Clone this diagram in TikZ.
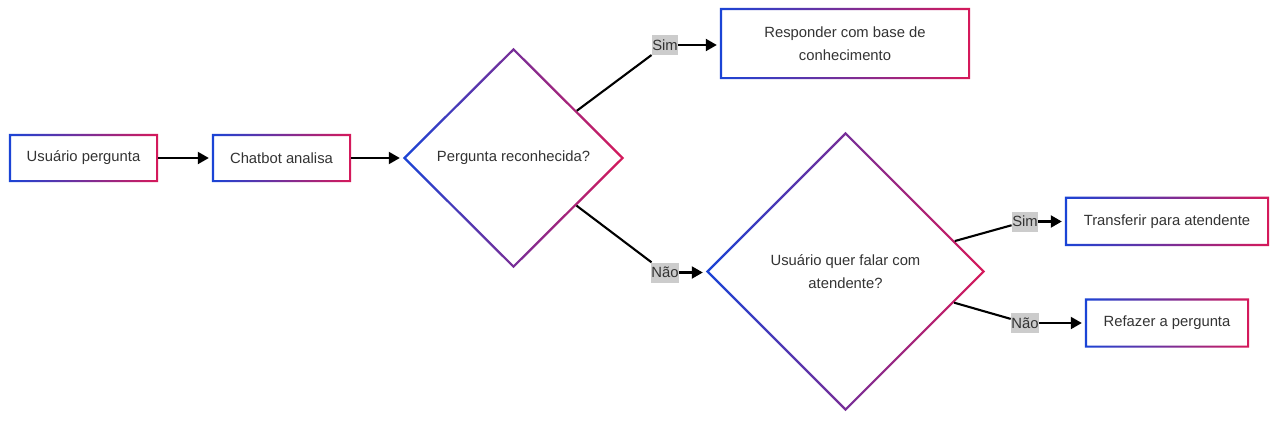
\documentclass[tikz,border=0pt]{standalone}
\usepackage{fontspec}
\setmainfont{Liberation Sans}
\usetikzlibrary{arrows.meta,shapes.geometric}
\definecolor{gblue}{HTML}{1A44D6}
\definecolor{gred}{HTML}{D6195A}
\definecolor{txt}{HTML}{333333}
\definecolor{lblbg}{HTML}{CCCCCC}
\tikzset{
 box/.style={rectangle, inner sep=0pt, text=txt, font=\fontsize{14.8}{23}\selectfont, align=center},
 dec/.style={diamond, inner sep=0pt, text=txt, font=\fontsize{14.8}{23}\selectfont, align=center},
 lbl/.style={fill=lblbg, text=txt, inner xsep=0.5pt, inner ysep=0pt, minimum height=20pt, font=\fontsize{14.8}{18}\selectfont},
 conn/.style={line width=2.1pt, black},
 arr/.style={conn, -{Triangle[length=11pt,width=12pt]}, shorten >=3pt},
 grad/.style={left color=gblue, right color=gred, even odd rule},
}
\newcommand\boxring[1]{\shade[grad] (#1.north west) rectangle (#1.south east) ([xshift=2.2pt,yshift=-2.2pt]#1.north west) rectangle ([xshift=-2.2pt,yshift=2.2pt]#1.south east);}
\newcommand\diaring[1]{\shade[grad] (#1.north)--(#1.east)--(#1.south)--(#1.west)--cycle ([yshift=-3.2pt]#1.north)--([xshift=-3.2pt]#1.east)--([yshift=3.2pt]#1.south)--([xshift=3.2pt]#1.west)--cycle;}
\begin{document}
\begin{tikzpicture}[x=1pt,y=-1pt]
\useasboundingbox[fill=white] (0,0) rectangle (1280,421);
\node[box, minimum width=149pt, minimum height=48pt] (u) at (83.5,158) {Usuário pergunta};
\node[box, minimum width=139pt, minimum height=48pt] (c) at (281.5,158) {Chatbot analisa};
\node[dec, minimum width=221pt, minimum height=220pt] (d1) at (513.5,158) {Pergunta reconhecida?};
\node[box, minimum width=250pt, minimum height=71pt] (r) at (845,43.5) {Responder com base de\\conhecimento};
\node[dec, minimum width=279pt, minimum height=279pt] (d2) at (845.5,271.5) {Usuário quer falar com\\atendente?};
\node[box, minimum width=204pt, minimum height=49pt] (t) at (1167,221.3) {Transferir para atendente};
\node[box, minimum width=164pt, minimum height=49pt] (f) at (1167,323) {Refazer a pergunta};
\boxring{u}
\boxring{c}
\boxring{r}
\boxring{t}
\boxring{f}
\diaring{d1}
\diaring{d2}
\node[lbl] (s1) at (665,45) {Sim};
\node[lbl] (n1) at (665,272.5) {Não};
\node[lbl] (s2) at (1025,221.5) {Sim};
\node[lbl] (n2) at (1025,323) {Não};
\draw[arr] (u) -- (c);
\draw[arr] (c) -- (d1);
\draw[conn] (d1) -- (s1);
\draw[arr] (s1.east) -- (s1.east -| r.west);
\draw[conn] (d1) -- (n1);
\draw[arr] (n1.east) -- (n1.east -| d2.west);
\draw[conn] (d2) -- (s2);
\draw[arr] (s2.east) -- (s2.east -| t.west);
\draw[conn] (d2) -- (n2);
\draw[arr] (n2.east) -- (n2.east -| f.west);
\end{tikzpicture}
\end{document}
